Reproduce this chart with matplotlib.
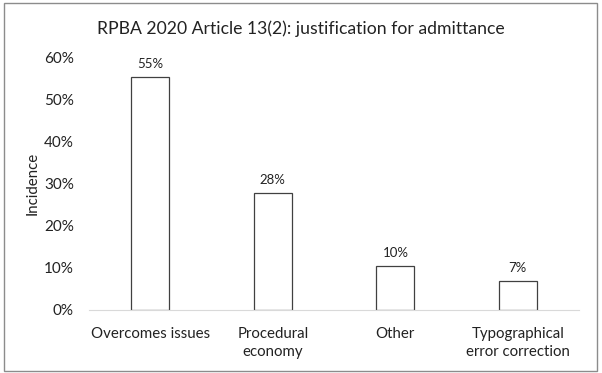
import matplotlib.pyplot as plt
from matplotlib.patches import Rectangle
from matplotlib.ticker import PercentFormatter

plt.rcParams['font.family'] = ['Lato', 'DejaVu Sans']

title = 'RPBA 2020 Article 13(2): justification for admittance'
categories = ['Overcomes issues', 'Procedural\neconomy', 'Other', 'Typographical\nerror correction']
values = [55.2, 27.7, 10.4, 6.9]
yticks = [0, 10, 20, 30, 40, 50, 60]

fig = plt.figure(figsize=(6.02, 3.73), dpi=100)
ax = fig.add_axes([0.148, 0.169, 0.814, 0.678])

x = range(len(categories))
bars = ax.bar(x, values, width=0.31, color='white', edgecolor='#404040', linewidth=0.9)

for b, v in zip(bars, values):
    ax.annotate('{:.0f}%'.format(v), (b.get_x() + b.get_width() / 2, v),
                xytext=(0, 5), textcoords='offset points',
                ha='center', va='bottom', fontsize=9.5, color='#222222')

ax.set_xlim(-0.5, len(categories) - 0.5)
ax.set_ylim(0, 60)
ax.set_yticks(yticks)
ax.yaxis.set_major_formatter(PercentFormatter(decimals=0))
ax.set_xticks(list(x))
ax.set_xticklabels(categories, fontsize=10.8, color='#222222', linespacing=1.4)
ax.tick_params(axis='y', length=0, pad=11, labelsize=11, colors='#222222')
ax.tick_params(axis='x', length=0, pad=12)
ax.set_ylabel('Incidence', fontsize=10.8, color='#222222', labelpad=3)

for s in ['top', 'right', 'left']:
    ax.spines[s].set_visible(False)
ax.spines['bottom'].set_color('#d9d9d9')
ax.spines['bottom'].set_linewidth(0.8)

fig.suptitle(title, x=0.5, y=0.945, fontsize=12.7, color='#222222')

fig.patches.append(Rectangle((0.006, 0.006), 0.985, 0.985, transform=fig.transFigure,
                             fill=False, edgecolor='#8c8c8c', linewidth=1.0))

plt.savefig('out.png', dpi=100)
plt.close()
